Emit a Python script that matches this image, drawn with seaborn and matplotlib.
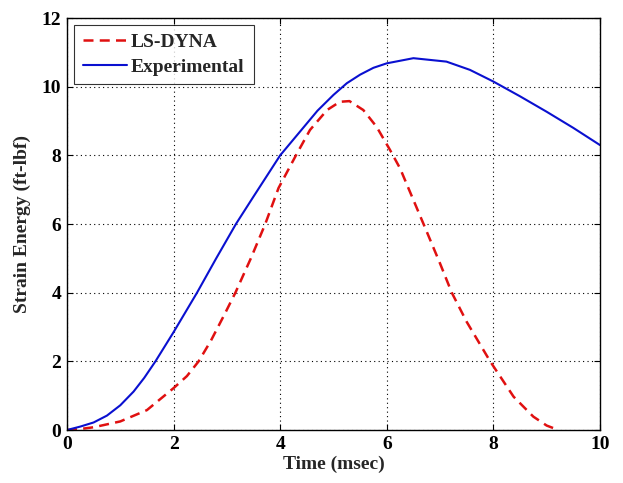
import matplotlib
matplotlib.use("Agg")
import matplotlib.pyplot as plt
import seaborn as sns
import pandas as pd

# Data
dyna_time = [0, 0.25, 0.5, 1.0, 1.5, 2.0, 2.25, 2.47, 2.7, 2.95, 3.16, 3.45, 3.72, 3.97, 4.31, 4.56, 4.88, 5.12,
             5.3, 5.56, 5.81, 6.06, 6.25, 6.69, 7.0, 7.22, 7.5, 7.94, 8.38, 8.75, 9.0, 9.22]
dyna_energy = [0, 0.03, 0.08, 0.25, 0.58, 1.22, 1.57, 2.0, 2.6, 3.35, 4.0, 5.0, 6.0, 7.05, 8.04, 8.74, 9.32, 9.56,
               9.58, 9.32, 8.83, 8.16, 7.62, 6.0, 4.85, 4.0, 3.15, 2.0, 0.97, 0.39, 0.13, 0]

exp_time = [0, 0.25, 0.5, 0.75, 1.0, 1.25, 1.45, 1.66, 2.0, 2.44, 2.8, 3.17, 3.5, 4.0, 4.35, 4.7, 5.0, 5.25,
            5.5, 5.75, 6.0, 6.5, 7.12, 7.56, 8.0, 8.5, 9.0, 9.5, 10.0]
exp_energy = [0, 0.1, 0.22, 0.42, 0.72, 1.12, 1.52, 2.0, 2.85, 4.0, 5.0, 6.0, 6.8, 8.0, 8.65, 9.3, 9.76, 10.1,
              10.35, 10.55, 10.68, 10.83, 10.73, 10.49, 10.15, 9.72, 9.27, 8.8, 8.3]

x_ticks = [0, 2, 4, 6, 8, 10]
y_ticks = [0, 2, 4, 6, 8, 10, 12]

sns.set_theme(style="white")
plt.rcParams['font.family'] = ['Liberation Serif', 'DejaVu Serif']
plt.rcParams['font.weight'] = 'bold'

fig = plt.figure(figsize=(6.23, 4.83), dpi=100)
ax = fig.add_axes([0.1075, 0.1097, 0.8555, 0.853])

df_dyna = pd.DataFrame({"t": dyna_time, "e": dyna_energy})
df_exp = pd.DataFrame({"t": exp_time, "e": exp_energy})

sns.lineplot(data=df_dyna, x="t", y="e", ax=ax, color="#e01010", linewidth=1.8,
             linestyle=(0, (4, 2.5)), label="LS-DYNA")
sns.lineplot(data=df_exp, x="t", y="e", ax=ax, color="#0a10d0", linewidth=1.5,
             label="Experimental")

ax.set_xlim(0, 10)
ax.set_ylim(0, 12)
ax.set_xticks(x_ticks)
ax.set_yticks(y_ticks)
ax.set_xticklabels([str(v) for v in x_ticks], fontsize=14, fontweight='bold')
ax.set_yticklabels([str(v) for v in y_ticks], fontsize=14, fontweight='bold')
ax.tick_params(direction='in', length=4, width=0.8, colors='black', pad=4, top=True, right=True, bottom=True, left=True)
ax.grid(True, linestyle=(0, (1, 3)), color='black', linewidth=0.8)
for s in ax.spines.values():
    s.set_color('black')
    s.set_linewidth(1.0)
ax.set_xlabel("Time (msec)", fontsize=14, fontweight='bold', labelpad=2)
ax.set_ylabel("Strain Energy (ft-lbf)", fontsize=14, fontweight='bold', labelpad=8)

leg = ax.legend(loc='upper left', fontsize=14, frameon=True, fancybox=False,
                edgecolor='black', handlelength=2.3, borderaxespad=0.35,
                handletextpad=0.2, borderpad=0.45, labelspacing=0.35)
leg.get_frame().set_linewidth(0.8)
for t in leg.get_texts():
    t.set_fontweight('bold')

fig.savefig("out.png", dpi=100, facecolor='white')
